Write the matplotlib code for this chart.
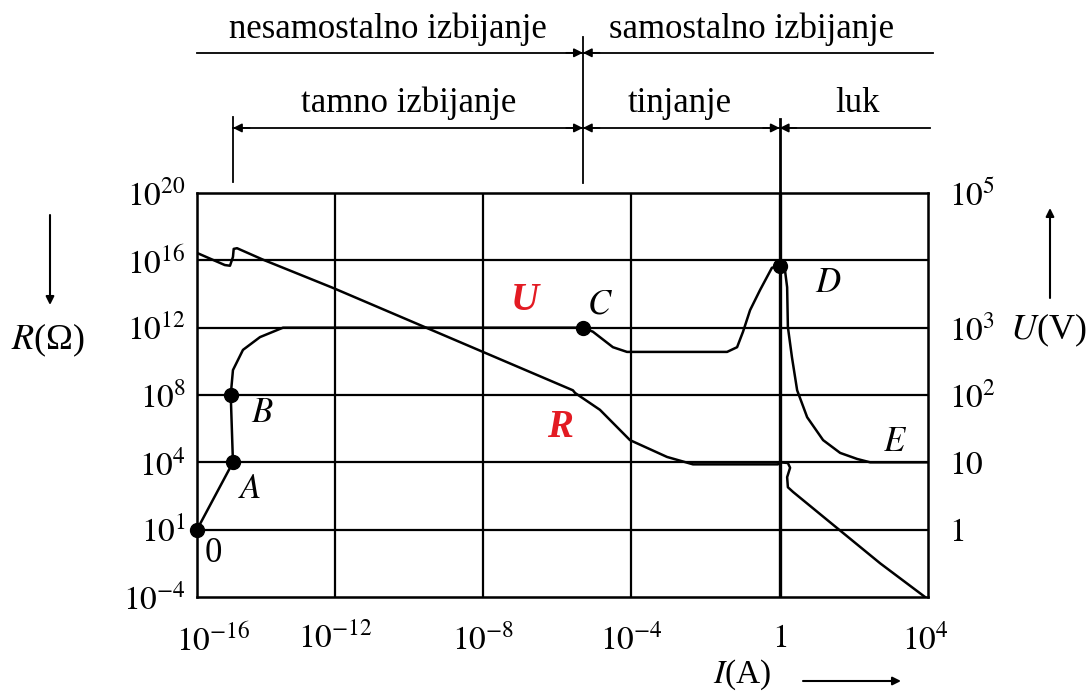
import numpy as np
import matplotlib.pyplot as plt

plt.rcParams['font.family'] = 'serif'
plt.rcParams['font.serif'] = ['Liberation Serif', 'DejaVu Serif']
plt.rcParams['mathtext.fontset'] = 'stix'

# log10(I) positions of the vertical grid lines and axis limits
x_grid = [-12, -8, -4, 0]
x_min, x_max = -15.72, 4.0
x_tick_pos = [-15.29, -12, -8, -4, 0, 3.92]
x_tick_labels = ['$10^{-16}$', '$10^{-12}$', '$10^{-8}$', '$10^{-4}$', '$1$', '$10^{4}$']

# schematic y levels (one grid row per level)
y_levels = [0, 1, 2, 3, 4, 5, 6]
r_labels = ['$10^{-4}$', '$10^{1}$', '$10^{4}$', '$10^{8}$', '$10^{12}$', '$10^{16}$', '$10^{20}$']
u_levels = [1, 2, 3, 4, 6]
u_labels = ['$1$', '$10$', '$10^{2}$', '$10^{3}$', '$10^{5}$']

# voltage curve U (log10 I, level)
u_logI = [-15.72, -14.75, -14.81, -14.75, -14.48, -14.02, -13.40, -12.94, -5.31,
          -5.04, -4.50, -4.12, -1.42, -1.15, -0.99, -0.80, -0.53, -0.21, 0.0,
          0.14, 0.20, 0.22, 0.33, 0.47, 0.74, 1.17, 1.63, 2.09, 2.44, 4.0]
u_level = [1.0, 2.0, 3.0, 3.37, 3.67, 3.86, 4.0, 4.0, 4.0,
           3.94, 3.71, 3.64, 3.64, 3.71, 3.94, 4.26, 4.56, 4.89, 4.92,
           4.86, 4.60, 4.01, 3.56, 3.07, 2.67, 2.33, 2.14, 2.05, 2.0, 2.0]

# resistance curve R
r_logI = [-15.72, -14.97, -14.83, -14.75, -14.73, -14.64, -13.94, -12.05, -5.58,
          -5.52, -4.85, -4.04, -3.04, -2.34, -0.05, 0.01, 0.22, 0.28, 0.20,
          0.22, 0.36, 1.49, 2.71, 3.92]
r_level = [5.11, 4.93, 4.92, 5.05, 5.17, 5.18, 5.01, 4.59, 3.07,
           3.03, 2.78, 2.33, 2.08, 1.97, 1.97, 2.0, 1.99, 1.92, 1.78,
           1.63, 1.56, 1.05, 0.50, 0.0]

# marked points 0, A, B, C, D
pt_idx = [0, 1, 2, 8, 18]
# label positions (log10 I, level)
lab_names = ['0', '$A$', '$B$', '$C$', '$D$', '$E$']
lab_x = [-15.29, -14.29, -13.97, -4.85, 1.30, 3.11]
lab_y = [0.64, 1.59, 2.73, 4.34, 4.66, 2.29]

# regions on top: (text, log10 I centre, row)
regions = ['nesamostalno izbijanje', 'samostalno izbijanje', 'tamno izbijanje', 'tinjanje', 'luk']
region_x = [-10.57, -0.75, -10.0, -2.69, 2.09]
region_row = [0, 0, 1, 1, 1]
sep_glow = -5.31     # border dark discharge / glow
start_dark = -14.75  # start of dark discharge

fig = plt.figure(figsize=(10.92, 6.95), dpi=100)
ax = fig.add_axes([197 / 1092, 98 / 695, 731 / 1092, 404 / 695])
ax.set_xscale('log')
ax.set_xlim(10 ** x_min, 10 ** x_max)
ax.set_ylim(0, 6)

for g in x_grid:
    ax.axvline(10.0 ** g, color='k', lw=2.4 if g == 0 else 1.6, zorder=1)
for lv in y_levels[1:-1]:
    ax.axhline(lv, color='k', lw=1.6, zorder=1)
for s in ax.spines.values():
    s.set_linewidth(1.8)

ax.set_xticks([10.0 ** v for v in x_tick_pos])
ax.set_xticklabels(x_tick_labels)
ax.xaxis.set_minor_locator(plt.NullLocator())
ax.set_yticks(y_levels)
ax.set_yticklabels(r_labels)
ax.tick_params(axis='both', length=0, labelsize=24)
ax.tick_params(axis='x', pad=19)
ax.tick_params(axis='y', pad=8)

ax2 = ax.twinx()
ax2.set_ylim(0, 6)
ax2.set_yticks(u_levels)
ax2.set_yticklabels(u_labels)
ax2.tick_params(axis='y', length=0, labelsize=24, pad=15)

ux = 10.0 ** np.array(u_logI)
rx = 10.0 ** np.array(r_logI)
ax.plot(ux, u_level, color='k', lw=1.8, zorder=3)
ax.plot(rx, r_level, color='k', lw=1.8, zorder=3)
ax.plot(ux[pt_idx], np.array(u_level)[pt_idx], 'o', color='k', ms=10, zorder=4, clip_on=False)

for name, lx, ly in zip(lab_names, lab_x, lab_y):
    ax.text(10.0 ** lx, ly, name, fontsize=25, ha='center', va='center')

ax.text(10.0 ** -6.87, 4.41, 'U', color='#e31b23', fontsize=28, fontweight='bold',
        fontstyle='italic', ha='center', va='center')
ax.text(10.0 ** -5.93, 2.52, 'R', color='#e31b23', fontsize=28, fontweight='bold',
        fontstyle='italic', ha='center', va='center')

# region brackets above the plot
tr = ax.get_xaxis_transform()
row_y = [1.347, 1.161]
text_y = [1.405, 1.222]
ax.plot([10 ** x_min, 10 ** 4.14], [row_y[0]] * 2, color='k', lw=1.3, transform=tr, clip_on=False)
ax.plot([10 ** start_dark, 10 ** 4.06], [row_y[1]] * 2, color='k', lw=1.3, transform=tr, clip_on=False)
ax.plot([10 ** sep_glow] * 2, [1.025, 1.386], color='k', lw=1.3, transform=tr, clip_on=False)
ax.plot([10 ** start_dark] * 2, [1.027, 1.188], color='k', lw=1.3, transform=tr, clip_on=False)
ax.plot([1, 1], [1.0, 1.183], color='k', lw=2.0, transform=tr, clip_on=False)

for t, cx, row in zip(regions, region_x, region_row):
    ax.text(10.0 ** cx, text_y[row], t, transform=tr, fontsize=25, ha='center', va='center')


def head(x_tip, y, direction):
    ax.annotate('', xy=(10.0 ** x_tip, y), xycoords=tr,
                xytext=(10.0 ** (x_tip - 0.45 * direction), y), textcoords=tr,
                arrowprops=dict(arrowstyle='-|>', color='k', lw=1.2,
                                mutation_scale=13, shrinkA=0, shrinkB=0))


head(sep_glow, row_y[0], 1)
head(sep_glow, row_y[0], -1)
head(sep_glow, row_y[1], 1)
head(sep_glow, row_y[1], -1)
head(0, row_y[1], 1)
head(0, row_y[1], -1)
head(start_dark, row_y[1], -1)

# axis names with arrows
fig.text(48, 355, '$R$(Ω)', transform=None, fontsize=26, ha='center', va='center')
fig.text(1048, 365, '$U$(V)', transform=None, fontsize=26, ha='center', va='center')
fig.text(742, 20, '$I$(A)', transform=None, fontsize=24, ha='center', va='center')
arr = dict(arrowstyle='-|>', color='k', lw=1.5, mutation_scale=12, shrinkA=0, shrinkB=0)
ax.annotate('', xy=(50, 390), xycoords='figure pixels', xytext=(50, 480),
            textcoords='figure pixels', arrowprops=arr, annotation_clip=False)
ax.annotate('', xy=(1050, 487), xycoords='figure pixels', xytext=(1050, 397),
            textcoords='figure pixels', arrowprops=arr, annotation_clip=False)
ax.annotate('', xy=(901, 14), xycoords='figure pixels', xytext=(803, 14),
            textcoords='figure pixels', arrowprops=arr, annotation_clip=False)

fig.savefig('out.png', dpi=100)
